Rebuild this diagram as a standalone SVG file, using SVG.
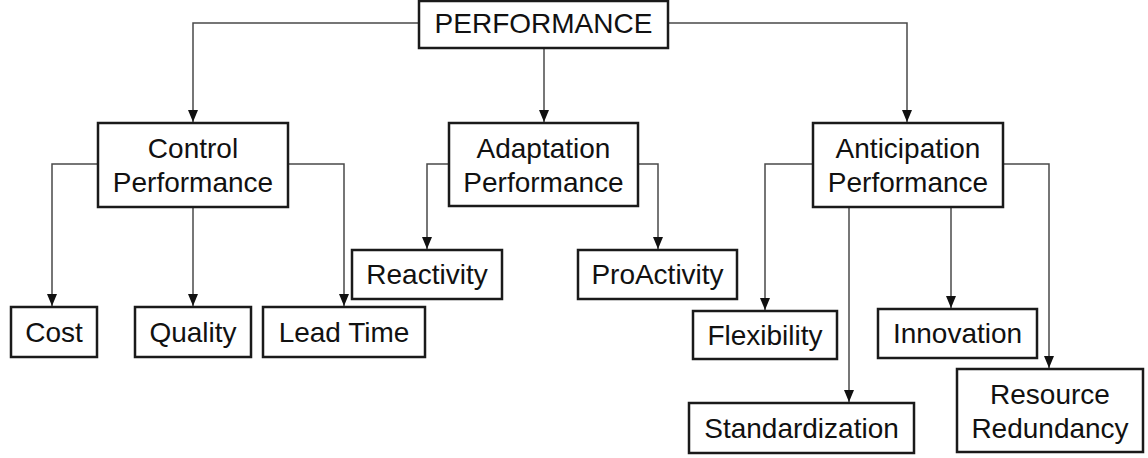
<svg xmlns="http://www.w3.org/2000/svg" width="1148" height="458" viewBox="0 0 1148 458">
<style>
.box{fill:#fff;stroke:#1a1a1a;stroke-width:2.5}
.t{font-family:"Liberation Sans",Arial,sans-serif;font-size:28px;fill:#111;text-anchor:middle}
.c{fill:none;stroke:#4a4a4a;stroke-width:1.5}
</style>
<defs>
<marker id="ah" markerUnits="userSpaceOnUse" markerWidth="12" markerHeight="10" viewBox="0 0 12 10" refX="12" refY="5" orient="auto">
<path d="M0,0 L12,5 L0,10 Z" fill="#111"/>
</marker>
</defs>
<rect width="1148" height="458" fill="#fff"/>
<g id="connectors">
<path class="c" d="M419,23 H193 V122" marker-end="url(#ah)"/>
<path class="c" d="M544,48 V122" marker-end="url(#ah)"/>
<path class="c" d="M668,23 H907 V122" marker-end="url(#ah)"/>
<path class="c" d="M98,164 H52 V306" marker-end="url(#ah)"/>
<path class="c" d="M193,207 V306" marker-end="url(#ah)"/>
<path class="c" d="M288,164 H344 V306" marker-end="url(#ah)"/>
<path class="c" d="M449,164 H427 V249" marker-end="url(#ah)"/>
<path class="c" d="M638,164 H658 V249" marker-end="url(#ah)"/>
<path class="c" d="M813,164 H765 V310" marker-end="url(#ah)"/>
<path class="c" d="M849,207 V402" marker-end="url(#ah)"/>
<path class="c" d="M951,207 V308" marker-end="url(#ah)"/>
<path class="c" d="M1003,164 H1049 V368" marker-end="url(#ah)"/>
</g>
<g id="performance"><rect class="box" x="419" y="1" width="249" height="47"/><text class="t" x="543.5" y="33">PERFORMANCE</text></g>
<g id="control"><rect class="box" x="98" y="123" width="190" height="84"/><text class="t" x="193" y="158">Control</text><text class="t" x="193" y="192">Performance</text></g>
<g id="adaptation"><rect class="box" x="449" y="123" width="189" height="83"/><text class="t" x="543.5" y="158">Adaptation</text><text class="t" x="543.5" y="192">Performance</text></g>
<g id="anticipation"><rect class="box" x="813" y="123" width="190" height="84"/><text class="t" x="908" y="158">Anticipation</text><text class="t" x="908" y="192">Performance</text></g>
<g id="cost"><rect class="box" x="11" y="307" width="86" height="50"/><text class="t" x="54" y="342">Cost</text></g>
<g id="quality"><rect class="box" x="135" y="307" width="116" height="50"/><text class="t" x="193" y="342">Quality</text></g>
<g id="leadtime"><rect class="box" x="263" y="307" width="162" height="50"/><text class="t" x="344" y="342">Lead Time</text></g>
<g id="reactivity"><rect class="box" x="352" y="250" width="150" height="49"/><text class="t" x="427" y="284">Reactivity</text></g>
<g id="proactivity"><rect class="box" x="578" y="250" width="159" height="49"/><text class="t" x="657.5" y="284">ProActivity</text></g>
<g id="flexibility"><rect class="box" x="693" y="311" width="144" height="48"/><text class="t" x="765" y="345">Flexibility</text></g>
<g id="innovation"><rect class="box" x="878" y="309" width="159" height="49"/><text class="t" x="957.5" y="343">Innovation</text></g>
<g id="standardization"><rect class="box" x="689" y="403" width="225" height="50"/><text class="t" x="801.5" y="438">Standardization</text></g>
<g id="redundancy"><rect class="box" x="957" y="369" width="186" height="83"/><text class="t" x="1050" y="404">Resource</text><text class="t" x="1050" y="438">Redundancy</text></g>
</svg>
